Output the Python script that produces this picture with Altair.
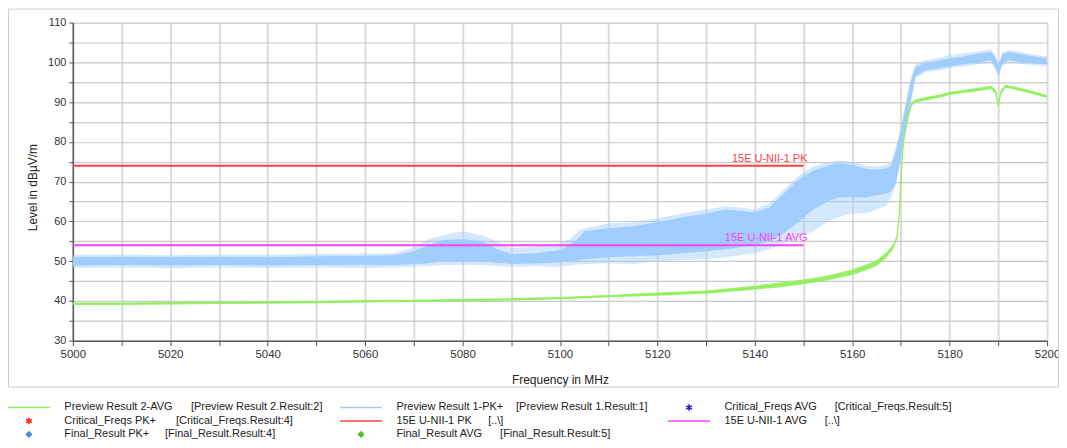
import altair as alt
import pandas as pd

# ---------------- data ----------------
# Preview Result 1-PK+ (noisy trace, read as envelopes)
pk_freq = [5000, 5010, 5020, 5030, 5040, 5050, 5060, 5066, 5070, 5073, 5076, 5080, 5084, 5087, 5090,
           5095, 5100, 5102, 5104, 5105, 5110, 5115, 5120, 5125, 5130, 5134, 5137, 5140, 5143, 5146,
           5149, 5152, 5155, 5157, 5160, 5163, 5165, 5167, 5168, 5169, 5170, 5171, 5172, 5173, 5175,
           5178, 5180, 5183, 5186, 5188.5, 5189.5, 5190, 5190.8, 5192, 5194, 5197, 5200]
pk_lo = [48.9, 49.0, 48.9, 49.0, 48.9, 49.0, 49.1, 49.0, 49.2, 49.5, 50.0, 50.0, 50.0, 49.6, 49.3,
         49.4, 49.7, 50.0, 50.3, 50.5, 51.0, 51.2, 51.5, 52.0, 52.5, 53.0, 53.5, 54.0, 55.0, 57.0,
         60.0, 63.0, 65.0, 66.0, 66.0, 66.0, 66.5, 67.0, 67.5, 70.0, 76.0, 83.0, 90.0, 96.5, 98.0,
         98.5, 99.0, 99.5, 100.0, 100.5, 98.5, 96.8, 99.5, 100.5, 100.2, 99.8, 99.5]
pk_hi = [51.0, 51.1, 51.0, 51.1, 51.0, 51.2, 51.3, 51.5, 52.5, 54.0, 55.3, 55.5, 55.0, 53.0, 51.8,
         52.0, 52.8, 54.0, 56.0, 57.5, 58.3, 58.8, 59.8, 61.0, 62.0, 63.0, 62.7, 62.3, 63.5, 67.0,
         70.5, 72.8, 74.0, 74.6, 74.2, 73.2, 73.0, 73.3, 74.0, 78.0, 83.0, 89.0, 95.0, 98.8, 99.8,
         100.5, 101.0, 101.5, 102.2, 102.6, 101.0, 99.0, 102.0, 102.6, 102.2, 101.5, 101.0]
pk_spike_lo = [48.3, 48.4, 48.2, 48.4, 48.3, 48.4, 48.3, 48.4, 48.6, 48.8, 49.0, 49.0, 49.0, 48.8, 48.6,
               48.7, 48.6, 48.9, 49.2, 49.3, 49.5, 49.3, 50.0, 50.3, 50.5, 51.0, 51.5, 52.0, 53.0, 54.5,
               56.0, 57.5, 60.0, 61.0, 62.0, 62.0, 63.0, 64.0, 66.0, 69.0, 75.5, 82.5, 89.5, 96.0, 97.5,
               98.0, 98.5, 99.0, 99.5, 100.0, 98.0, 96.3, 99.0, 100.0, 99.7, 99.3, 99.0]
pk_spike_hi = [51.6, 51.7, 51.5, 51.7, 51.6, 51.8, 51.9, 52.0, 53.5, 55.5, 56.5, 57.5, 56.5, 55.0, 53.3,
               53.6, 54.5, 55.5, 57.8, 58.3, 59.5, 59.8, 60.8, 62.0, 63.0, 63.8, 63.5, 63.0, 64.5, 68.0,
               71.5, 73.8, 74.8, 75.3, 75.0, 74.0, 73.8, 74.2, 75.0, 79.0, 84.0, 90.0, 96.0, 99.5, 100.5,
               101.2, 101.8, 102.3, 102.8, 103.2, 101.5, 99.5, 102.5, 103.1, 102.8, 102.0, 101.5]

# Preview Result 2-AVG
avg_freq = [5000, 5010, 5020, 5030, 5040, 5050, 5060, 5070, 5080, 5090, 5100, 5110, 5120, 5130, 5140,
            5145, 5150, 5155, 5160, 5163, 5165, 5167, 5168.5, 5169.2, 5169.6, 5170, 5170.5, 5171, 5171.5,
            5172.2, 5173, 5175, 5178, 5180, 5183, 5186, 5188.5, 5189.5, 5190, 5190.5, 5191.5, 5193,
            5196.5, 5200]
avg_mid = [39.3, 39.3, 39.4, 39.5, 39.6, 39.7, 39.9, 40.0, 40.2, 40.4, 40.7, 41.2, 41.7, 42.2, 43.3,
           44.0, 44.8, 45.8, 47.2, 48.5, 49.5, 51.5, 53.8, 56.0, 61.0, 70.0, 80.0, 83.5, 86.5,
           89.5, 90.3, 90.8, 91.5, 92.2, 92.7, 93.2, 93.7, 92.5, 89.0, 92.5, 94.0, 93.6,
           92.6, 91.4]
avg_lo = [39.0, 39.0, 39.1, 39.2, 39.3, 39.4, 39.6, 39.7, 39.9, 40.1, 40.4, 40.9, 41.3, 41.8, 42.8,
          43.4, 44.2, 45.2, 46.5, 47.8, 48.8, 50.8, 53.2, 55.5, 60.5, 69.5, 79.5, 83.0, 86.0,
          89.1, 89.9, 90.4, 91.1, 91.8, 92.3, 92.8, 93.3, 92.0, 88.5, 92.0, 93.6, 93.2,
          92.2, 91.0]
avg_hi = [39.6, 39.6, 39.7, 39.8, 39.9, 40.0, 40.2, 40.3, 40.5, 40.7, 41.0, 41.5, 42.1, 42.6, 43.8,
          44.6, 45.4, 46.4, 47.9, 49.2, 50.2, 52.2, 54.4, 56.5, 61.5, 70.5, 80.5, 84.0, 87.0,
          89.9, 90.7, 91.2, 91.9, 92.6, 93.1, 93.6, 94.1, 93.0, 89.5, 93.0, 94.4, 94.0,
          93.0, 91.8]

# limit lines
limit_names = ["15E U-NII-1 PK", "15E U-NII-1 AVG"]
limit_levels = [74, 54]
limit_start = [5000, 5000]
limit_end = [5150, 5150]

# axes
x_tick_values = [5000, 5010, 5020, 5030, 5040, 5050, 5060, 5070, 5080, 5090, 5100,
                 5110, 5120, 5130, 5140, 5150, 5160, 5170, 5180, 5190, 5200]
y_tick_values = [30, 35, 40, 45, 50, 55, 60, 65, 70, 75, 80, 85, 90, 95, 100, 105, 110]

# legend (row-major, 3 columns)
legend_names = ["Preview Result 2-AVG", "Preview Result 1-PK+", "Critical_Freqs AVG",
                "Critical_Freqs PK+", "15E U-NII-1 PK", "15E U-NII-1 AVG",
                "Final_Result PK+", "Final_Result AVG"]
legend_refs = ["[Preview Result 2.Result:2]", "[Preview Result 1.Result:1]", "[Critical_Freqs.Result:5]",
               "[Critical_Freqs.Result:4]", "[..\\]", "[..\\]",
               "[Final_Result.Result:4]", "[Final_Result.Result:5]"]
legend_kinds = ["line", "line", "star", "star", "line", "line", "diamond", "diamond"]

# ---------------- styles / layout ----------------
BLUE = "#a0cdfb"
GREEN = "#90f05c"
RED = "#ff4040"
PINK = "#ff40ff"
legend_colors = [GREEN, BLUE, "#1a1acc", "#ff2020", RED, PINK, "#3d8fe0", "#55c020"]
label_colors = ["#ff5050", "#ff44ff"]
FONT = "Liberation Sans"

W, H = 977, 319
PAD = {"left": 65, "top": 14, "right": 12, "bottom": 99}
col_x = [-65, 268, 597]
row_y = [386, 399.5, 413]
ref_dx = [127, 120, 110.5, 112, 92, 100.5, 101, 104]
ASTERISK = "M0,-1L0,1M-0.866,-0.5L0.866,0.5M-0.866,0.5L0.866,-0.5"

pk_df = pd.DataFrame({"f": pk_freq, "lo": pk_lo, "hi": pk_hi, "slo": pk_spike_lo, "shi": pk_spike_hi})
avg_df = pd.DataFrame({"f": avg_freq, "lo": avg_lo, "mid": avg_mid, "hi": avg_hi})
lim_df = pd.DataFrame({"name": limit_names, "level": limit_levels, "f0": limit_start,
                       "f1": limit_end, "color": ["red", "pink"]})
leg_df = pd.DataFrame({"idx": list(range(len(legend_names))), "name": legend_names, "ref": legend_refs})
one_df = pd.DataFrame({"a": [0]})

xscale = alt.Scale(domain=[5000, 5200], nice=False, zero=False)
yscale = alt.Scale(domain=[30, 110], nice=False, zero=False)

x_axis = alt.Axis(
    title="Frequency in MHz", values=x_tick_values, format="d",
    labelExpr="datum.value % 20 === 0 ? datum.label : ''",
    labelFlush=False, labelOverlap=False, labelFontSize=11.5, labelColor="#333", labelPadding=3,
    tickSize=5, tickColor="#555", domainColor="#5a5a5a", domainWidth=1.5,
    grid=True, gridColor="#dcdcdc", gridWidth=2,
    titleFontSize=12, titleFontWeight="normal", titleColor="#222",
    titleX=488.5, titleY=39, titleAlign="center", titleBaseline="middle",
)
y_axis = alt.Axis(
    title="Level in dBµV/m", values=y_tick_values,
    labelExpr="datum.value % 10 === 0 ? datum.label : ''",
    labelFlush=False, labelOverlap=False, labelFontSize=11, labelColor="#333", labelPadding=3,
    tickSize=4, tickColor="#555", domainColor="#5a5a5a", domainWidth=1.5,
    grid=True, gridColor="#c9c9c9", gridWidth=1.2,
    titleFontSize=12, titleFontWeight="normal", titleColor="#222",
    titleAngle=270, titleX=-40, titleY=165, titleAlign="center", titleBaseline="middle",
)

X = alt.X("f:Q", scale=xscale, axis=x_axis)

pk_spikes = alt.Chart(pk_df).mark_area(color=BLUE, opacity=0.45, clip=True).encode(
    x=X, y=alt.Y("slo:Q", scale=yscale, axis=y_axis), y2="shi:Q")
pk_dense = alt.Chart(pk_df).mark_area(color=BLUE, opacity=1, clip=True).encode(
    x=X, y=alt.Y("lo:Q", scale=yscale, axis=y_axis), y2="hi:Q")
avg_band = alt.Chart(avg_df).mark_area(color=GREEN, opacity=0.9, clip=True).encode(
    x=X, y=alt.Y("lo:Q", scale=yscale, axis=y_axis), y2="hi:Q")
avg_line = alt.Chart(avg_df).mark_line(color=GREEN, strokeWidth=1.2, clip=True).encode(
    x=X, y=alt.Y("mid:Q", scale=yscale, axis=y_axis))

lim_rules = alt.Chart(lim_df).mark_rule(strokeWidth=2).encode(
    x=alt.X("f0:Q", scale=xscale, axis=x_axis), x2="f1:Q",
    y=alt.Y("level:Q", scale=yscale, axis=y_axis),
    color=alt.Color("color:N", scale=alt.Scale(domain=["red", "pink"], range=[RED, PINK]), legend=None))
lim_text = alt.Chart(lim_df).mark_text(align="right", baseline="bottom", dx=4, dy=-2,
                                       fontSize=11, font=FONT).encode(
    x=alt.X("f1:Q", scale=xscale, axis=x_axis),
    y=alt.Y("level:Q", scale=yscale, axis=y_axis),
    text="name:N",
    color=alt.Color("color:N", scale=alt.Scale(domain=["red", "pink"], range=label_colors), legend=None))

frame = alt.Chart(one_df).mark_rect(fillOpacity=0, stroke="#cfcfcf", strokeWidth=1).encode(
    x=alt.value(-64.5), x2=alt.value(988.5), y=alt.value(-13.5), y2=alt.value(365.5))

layers = [pk_spikes, pk_dense, avg_band, avg_line, lim_rules, lim_text, frame]

for i, kind in enumerate(legend_kinds):
    cx = col_x[i % 3]
    ry = row_y[i // 3]
    c = legend_colors[i]
    base = alt.Chart(leg_df).transform_filter(alt.datum.idx == i)
    if kind == "line":
        sym = base.mark_rule(color=c, strokeWidth=1.5).encode(
            x=alt.value(cx), x2=alt.value(cx + 42), y=alt.value(ry))
    elif kind == "star":
        sym = base.mark_point(shape=ASTERISK, filled=False, color=c, strokeWidth=1.5, size=45,
                              opacity=1).encode(x=alt.value(cx + 21), y=alt.value(ry))
    else:
        sym = base.mark_point(shape="diamond", filled=True, color=c, size=50,
                              opacity=1).encode(x=alt.value(cx + 21), y=alt.value(ry))
    name_t = base.mark_text(align="left", baseline="middle", fontSize=11, font=FONT,
                            color="#222").encode(x=alt.value(cx + 56.5), y=alt.value(ry), text="name:N")
    ref_t = base.mark_text(align="left", baseline="middle", fontSize=11, font=FONT,
                           color="#222").encode(x=alt.value(cx + 56.5 + ref_dx[i]), y=alt.value(ry),
                                                text="ref:N")
    layers += [sym, name_t, ref_t]

chart = alt.layer(*layers).properties(
    width=W, height=H,
    autosize=alt.AutoSizeParams(type="none"),
    padding=PAD,
).configure_view(stroke=None).configure_axis(labelFont=FONT, titleFont=FONT)

chart.save("out.html", embed_options={"renderer": "svg", "actions": False})
